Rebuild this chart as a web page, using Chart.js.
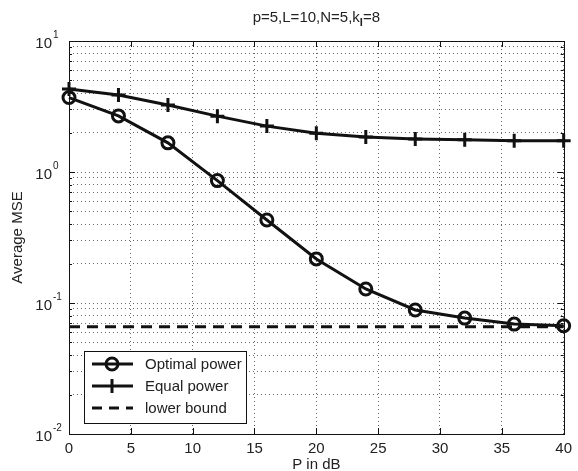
<!DOCTYPE html>
<html>
<head>
<meta charset="utf-8">
<script src="https://cdn.jsdelivr.net/npm/chart.js@4.4.1/dist/chart.umd.min.js"></script>
<style>
  html, body { margin: 0; padding: 0; background: #fff; }
  #wrap { width: 578px; height: 471px; }
</style>
</head>
<body>
<div id="wrap"><canvas id="chartMse" width="578" height="471"></canvas></div>
<script>
// ---- data ----
const powerDb = [0, 4, 8, 12, 16, 20, 24, 28, 32, 36, 40];
const optimalPower = [3.7, 2.68, 1.67, 0.86, 0.43, 0.217, 0.128, 0.0885, 0.0767, 0.069, 0.067];
const equalPower = [4.3, 3.87, 3.25, 2.67, 2.24, 1.98, 1.85, 1.79, 1.76, 1.73, 1.73];
const lowerBound = 0.066;

const xTicks = [0, 5, 10, 15, 20, 25, 30, 35, 40];
const yDecades = [0.01, 0.1, 1, 10];
const yExponents = ["-2", "-1", "0", "1"];

const FONT = "'Liberation Sans', Arial, Helvetica, sans-serif";
const INK = "#111";

// all log grid positions (1..9 per decade)
const yGrid = [];
yDecades.forEach((d, i) => {
  if (i === yDecades.length - 1) { yGrid.push(d); return; }
  for (let m = 1; m <= 9; m++) yGrid.push(+(d * m).toPrecision(3));
});

const pts = (ys) => powerDb.map((x, i) => ({ x: x, y: ys[i] }));

// ---- box, inward ticks, tick labels, titles, legend ----
const matlabLook = {
  id: "matlabLook",
  afterDraw(chart) {
    const c = chart.ctx;
    const a = chart.chartArea;
    const xs = chart.scales.x, ys = chart.scales.y;
    c.save();
    c.strokeStyle = INK;
    c.lineWidth = 1;

    // inward tick marks
    c.beginPath();
    yGrid.forEach((v) => {
      const y = Math.round(ys.getPixelForValue(v)) + 0.5;
      const len = yDecades.includes(v) ? 6 : 3;
      c.moveTo(a.left, y); c.lineTo(a.left + len, y);
      c.moveTo(a.right, y); c.lineTo(a.right - len, y);
    });
    xTicks.forEach((v) => {
      const x = Math.round(xs.getPixelForValue(v)) + 0.5;
      c.moveTo(x, a.bottom); c.lineTo(x, a.bottom - 6);
      c.moveTo(x, a.top); c.lineTo(x, a.top + 6);
    });
    c.stroke();

    // box
    c.strokeRect(Math.round(a.left) + 0.5, Math.round(a.top) + 0.5,
      Math.round(a.right - a.left), Math.round(a.bottom - a.top));

    // y tick labels 10^n
    c.fillStyle = "#222";
    c.textBaseline = "middle";
    yDecades.forEach((v, i) => {
      const y = ys.getPixelForValue(v);
      c.font = "15px " + FONT;
      c.textAlign = "right";
      c.fillText("10", a.left - 17, y + 3);
      c.font = "10px " + FONT;
      c.textAlign = "left";
      c.fillText(yExponents[i], a.left - 16, y - 6);
    });

    // title with subscript
    const parts = [["p=5,L=10,N=5,k", 15, 0], ["I", 11, 5], ["=8", 15, 0]];
    let w = 0;
    parts.forEach((p) => { c.font = p[1] + "px " + FONT; w += c.measureText(p[0]).width; });
    let tx = (a.left + a.right) / 2 - w / 2;
    c.textAlign = "left";
    parts.forEach((p) => {
      c.font = (p[0] === "I" ? "bold " : "") + p[1] + "px " + FONT;
      c.fillText(p[0], tx, 18 + p[2]);
      tx += c.measureText(p[0]).width;
    });

    // axis titles
    c.font = "15px " + FONT;
    c.textAlign = "center";
    c.fillText("P in dB", (a.left + a.right) / 2, 465);
    c.save();
    c.translate(18, (a.top + a.bottom) / 2);
    c.rotate(-Math.PI / 2);
    c.fillText("Average MSE", 0, 0);
    c.restore();

    // legend box
    const lx = 84, ly = 351, lw = 162, lh = 72;
    c.fillStyle = "#fff";
    c.fillRect(lx, ly, lw, lh);
    c.strokeStyle = INK;
    c.lineWidth = 1;
    c.strokeRect(lx + 0.5, ly + 0.5, lw, lh);

    const rows = [
      { label: "Optimal power", marker: "circle", dash: [] },
      { label: "Equal power", marker: "cross", dash: [] },
      { label: "lower bound", marker: null, dash: [10, 7] },
    ];
    rows.forEach((r, i) => {
      const y = ly + 13 + i * 22;
      c.strokeStyle = INK;
      c.lineWidth = 3;
      c.setLineDash(r.dash);
      c.beginPath();
      c.moveTo(92, y); c.lineTo(133, y);
      c.stroke();
      c.setLineDash([]);
      if (r.marker === "circle") {
        c.beginPath(); c.arc(112, y, 6, 0, Math.PI * 2); c.stroke();
      } else if (r.marker === "cross") {
        c.beginPath(); c.moveTo(112, y - 7); c.lineTo(112, y + 7); c.stroke();
      }
      c.fillStyle = "#222";
      c.font = "15px " + FONT;
      c.textAlign = "left";
      c.fillText(r.label, 145, y + 1);
    });
    c.restore();
  },
};

new Chart(document.getElementById("chartMse"), {
  type: "line",
  data: {
    datasets: [
      {
        label: "Optimal power",
        data: pts(optimalPower),
        borderColor: INK,
        borderWidth: 3,
        pointStyle: "circle",
        pointRadius: 6,
        pointBorderWidth: 3,
        pointBorderColor: INK,
        pointBackgroundColor: "rgba(0,0,0,0)",
        clip: false,
      },
      {
        label: "Equal power",
        data: pts(equalPower),
        borderColor: INK,
        borderWidth: 3,
        pointStyle: "cross",
        pointRadius: 7,
        pointBorderWidth: 3,
        pointBorderColor: INK,
        clip: false,
      },
      {
        label: "lower bound",
        data: [{ x: powerDb[0], y: lowerBound }, { x: powerDb[powerDb.length - 1], y: lowerBound }],
        borderColor: INK,
        borderWidth: 3,
        borderDash: [11, 7],
        pointRadius: 0,
        clip: false,
      },
    ],
  },
  options: {
    responsive: false,
    animation: false,
    layout: { padding: { top: 41, right: 10, left: 0, bottom: 0 } },
    plugins: { legend: { display: false }, title: { display: false }, tooltip: { enabled: false } },
    scales: {
      x: {
        type: "linear",
        min: 0,
        max: 40,
        afterBuildTicks: (s) => { s.ticks = xTicks.map((v) => ({ value: v })); },
        afterFit: (s) => { s.height = 37; },
        ticks: { color: "#222", font: { family: FONT, size: 15 }, padding: 6, maxRotation: 0 },
        grid: { color: "rgba(0,0,0,0.6)", lineWidth: 1, drawTicks: false, tickBorderDash: [1, 3] },
        border: { display: false, dash: [1, 3] },
      },
      y: {
        type: "logarithmic",
        min: 0.01,
        max: 10,
        afterBuildTicks: (s) => { s.ticks = yGrid.map((v) => ({ value: v })); },
        afterFit: (s) => { s.width = 69; },
        ticks: { display: false },
        grid: { color: "rgba(0,0,0,0.6)", lineWidth: 1, drawTicks: false },
        border: { display: false, dash: [1, 3] },
      },
    },
  },
  plugins: [matlabLook],
});
</script>
</body>
</html>
